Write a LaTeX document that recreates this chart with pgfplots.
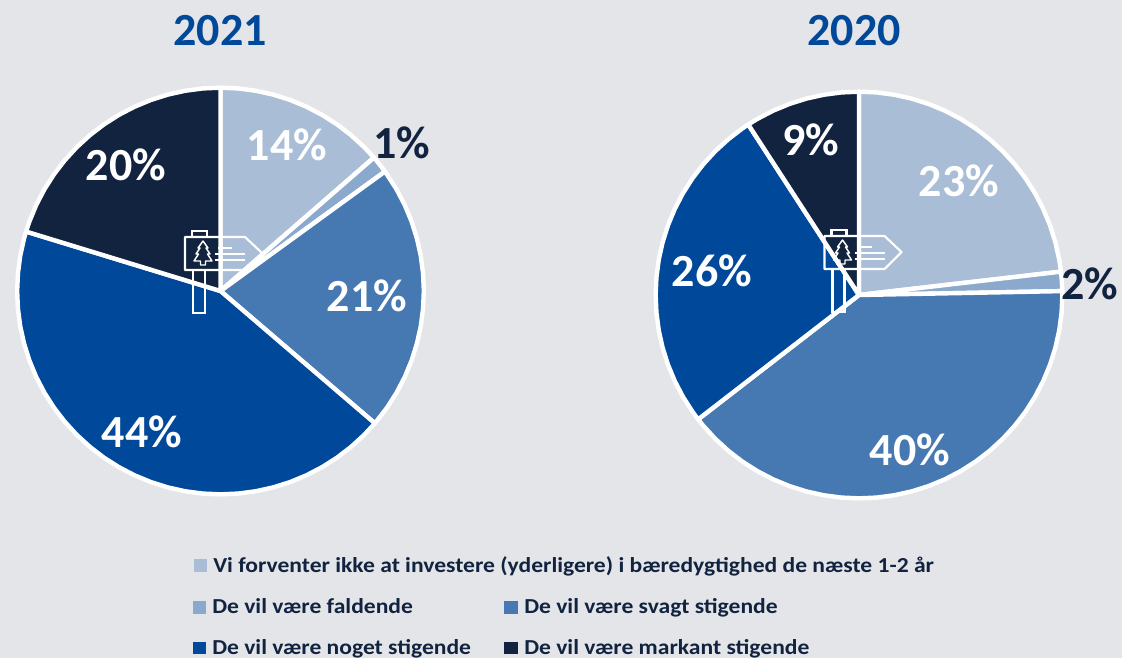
\documentclass[border=0pt]{standalone}
\usepackage{pgfplots}
\usepackage{fontspec}
\setmainfont{Carlito}
\newfontfamily\legfont[FakeStretch=1.105]{Carlito}
\pgfplotsset{compat=1.18}
\usepgfplotslibrary{polar}
\definecolor{bg}{HTML}{E3E5E9}
\definecolor{cA}{HTML}{A9BED6}
\definecolor{cB}{HTML}{8BA9CC}
\definecolor{cC}{HTML}{4678B2}
\definecolor{cD}{HTML}{00489A}
\definecolor{cE}{HTML}{12233F}
\pgfplotsset{piestyle/.style={
  hide axis, clip=false, anchor=center, scale only axis,
  width=305pt, height=305pt, xmin=0, xmax=360, ymin=0, ymax=1,
  every axis plot/.append style={draw=white, line width=3.3pt, line join=round, mark=none}}}
\newcommand{\signicon}{%
  \draw[white,line width=1.6pt,line join=round]
    (185,237)--(245,237)--(262,253)--(245,270)--(185,270)--cycle;
  \draw[white,line width=1.6pt] (192,237)--(192,231)--(207,231)--(207,237);
  \draw[white,line width=1.6pt] (193,270)--(193,313)--(205,313)--(205,270);
  \draw[white,line width=1.1pt,line join=round]
    (203,241)--(198,248)--(200,248)--(196,254)--(198.5,254)--(194,261)--(200.5,261)--(200.5,265)--(205.5,265)--(205.5,261)--(212,261)--(207.5,254)--(210,254)--(206,248)--(208,248)--cycle;
  \draw[white,line width=1.3pt] (218,248)--(232,248) (215,254)--(245,254) (215,260)--(245,260);
}
\begin{document}
\begin{tikzpicture}[x=0.75pt,y=-0.75pt]
\fill[bg] (0,0) rectangle (1122,658);
\coordinate (PieA) at (220.5,291);
\coordinate (PieB) at (859,295);
% ---- 2021
\begin{polaraxis}[piestyle, at={(PieA)}]
\addplot[fill=cA] coordinates {(0,0)(41,1)(45,1)(50,1)(55,1)(60,1)(65,1)(70,1)(75,1)(80,1)(85,1)(90,1)(0,0)};
\addplot[fill=cB] coordinates {(0,0)(36,1)(38,1)(41,1)(0,0)};
\addplot[fill=cC] coordinates {(0,0)(-40.6,1)(-35,1)(-30,1)(-25,1)(-20,1)(-15,1)(-10,1)(-5,1)(0,1)(5,1)(10,1)(15,1)(20,1)(25,1)(30,1)(36,1)(0,0)};
\addplot[fill=cD] coordinates {(0,0)(163,1)(165,1)(170,1)(175,1)(180,1)(185,1)(190,1)(195,1)(200,1)(205,1)(210,1)(215,1)(220,1)(225,1)(230,1)(235,1)(240,1)(245,1)(250,1)(255,1)(260,1)(265,1)(270,1)(275,1)(280,1)(285,1)(290,1)(295,1)(300,1)(305,1)(310,1)(315,1)(319.4,1)(0,0)};
\addplot[fill=cE] coordinates {(0,0)(90,1)(95,1)(100,1)(105,1)(110,1)(115,1)(120,1)(125,1)(130,1)(135,1)(140,1)(145,1)(150,1)(155,1)(160,1)(163,1)(0,0)};
\end{polaraxis}
% ---- 2020
\begin{polaraxis}[piestyle, at={(PieB)}]
\addplot[fill=cA] coordinates {(0,0)(6.6,1)(10,1)(15,1)(20,1)(25,1)(30,1)(35,1)(40,1)(45,1)(50,1)(55,1)(60,1)(65,1)(70,1)(75,1)(80,1)(85,1)(90,1)(0,0)};
\addplot[fill=cB] coordinates {(0,0)(1.1,1)(4,1)(6.6,1)(0,0)};
\addplot[fill=cC] coordinates {(0,0)(-142.3,1)(-140,1)(-135,1)(-130,1)(-125,1)(-120,1)(-115,1)(-110,1)(-105,1)(-100,1)(-95,1)(-90,1)(-85,1)(-80,1)(-75,1)(-70,1)(-65,1)(-60,1)(-55,1)(-50,1)(-45,1)(-40,1)(-35,1)(-30,1)(-25,1)(-20,1)(-15,1)(-10,1)(-5,1)(0,1)(1.1,1)(0,0)};
\addplot[fill=cD] coordinates {(0,0)(123,1)(125,1)(130,1)(135,1)(140,1)(145,1)(150,1)(155,1)(160,1)(165,1)(170,1)(175,1)(180,1)(185,1)(190,1)(195,1)(200,1)(205,1)(210,1)(215,1)(217.7,1)(0,0)};
\addplot[fill=cE] coordinates {(0,0)(90,1)(95,1)(100,1)(105,1)(110,1)(115,1)(120,1)(123,1)(0,0)};
\end{polaraxis}
% ---- icons
\signicon
\begin{scope}[shift={(639.5,-1)}]\signicon\end{scope}
% ---- titles
\tikzset{lab/.style={anchor=base,font=\fontsize{34.5}{36}\selectfont\bfseries,inner sep=0pt}}
\node[lab,text=cD] at (220,45) {2021};
\node[lab,text=cD] at (854,45) {2020};
% ---- value labels
\node[lab,text=white] at (287,160) {14\%};
\node[lab,text=cE] at (402,158) {1\%};
\node[lab,text=white] at (367,311) {21\%};
\node[lab,text=white] at (142,447) {44\%};
\node[lab,text=white] at (126,180) {20\%};
\node[lab,text=white] at (959,196) {23\%};
\node[lab,text=cE] at (1090,299) {2\%};
\node[lab,text=white] at (910,465) {40\%};
\node[lab,text=white] at (712,286) {26\%};
\node[lab,text=white] at (811,155) {9\%};
% ---- legend
\tikzset{leg/.style={anchor=base west,font=\legfont\fontsize{16}{18}\selectfont\bfseries,text=cE,inner sep=0pt}}
\fill[cA] (194,559) rectangle (207,572);
\node[leg] at (213,572) {Vi forventer ikke at investere (yderligere) i bæredygtighed de næste 1-2 år};
\fill[cB] (193,601) rectangle (206,614);
\node[leg] at (212,613) {De vil være faldende};
\fill[cC] (504,601) rectangle (518,614);
\node[leg] at (524,613) {De vil være svagt stigende};
\fill[cD] (193,642) rectangle (206,654);
\node[leg] at (212,654) {De vil være noget stigende};
\fill[cE] (504,642) rectangle (518,654);
\node[leg] at (524,654) {De vil være markant stigende};
\end{tikzpicture}
\end{document}
